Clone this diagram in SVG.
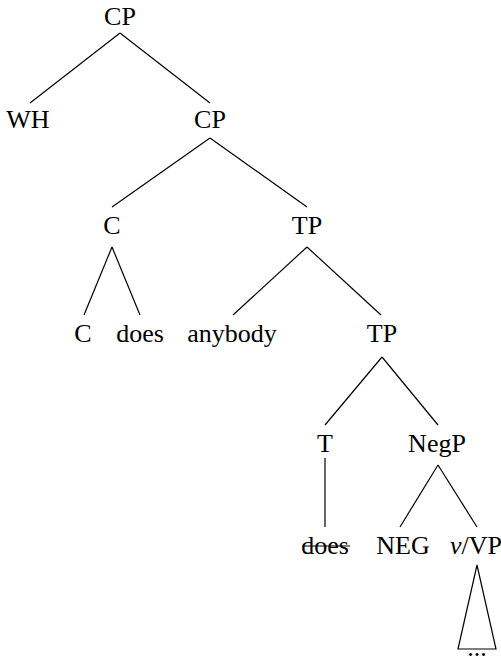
<svg xmlns="http://www.w3.org/2000/svg" width="501" height="663" viewBox="0 0 501 663">
<style>
text{font-family:"Liberation Serif","Times New Roman",serif;font-size:26px;fill:#000;text-anchor:middle}
line,polygon{stroke:#000;stroke-width:1.2;fill:none}
</style>
<rect width="501" height="663" fill="#fff"/>
<g id="connectors">
<line x1="120" y1="33" x2="30" y2="103"/>
<line x1="120" y1="33" x2="210" y2="103"/>
<line x1="210" y1="138" x2="112" y2="207"/>
<line x1="210" y1="138" x2="307" y2="207"/>
<line x1="112" y1="247" x2="84" y2="315"/>
<line x1="112" y1="247" x2="140" y2="315"/>
<line x1="307" y1="247" x2="233" y2="315"/>
<line x1="307" y1="247" x2="381" y2="315"/>
<line x1="382" y1="357" x2="325" y2="425"/>
<line x1="382" y1="357" x2="438" y2="425"/>
<line x1="325" y1="458" x2="325" y2="527"/>
<line x1="438" y1="465" x2="400" y2="527"/>
<line x1="438" y1="465" x2="477" y2="527"/>
<polygon points="477,565 458,649 496,649"/>
</g>
<g id="n-cp1"><text x="120" y="25">CP</text></g>
<g id="n-wh"><text x="28" y="128">WH</text></g>
<g id="n-cp2"><text x="210" y="128">CP</text></g>
<g id="n-c"><text x="112" y="234">C</text></g>
<g id="n-tp1"><text x="307" y="234">TP</text></g>
<g id="n-c2"><text x="83" y="342">C</text></g>
<g id="n-does1"><text x="140" y="342">does</text></g>
<g id="n-anybody"><text x="232" y="342">anybody</text></g>
<g id="n-tp2"><text x="382" y="342">TP</text></g>
<g id="n-t"><text x="325" y="452">T</text></g>
<g id="n-negp"><text x="437" y="452">NegP</text></g>
<g id="n-does2"><text x="325" y="554">does</text><line x1="302" y1="546" x2="350" y2="546"/></g>
<g id="n-neg"><text x="403" y="554">NEG</text></g>
<g id="n-vp"><text x="476" y="554"><tspan font-style="italic">v</tspan>/VP</text></g>
<g id="n-dots"><text x="477" y="656">...</text></g>
</svg>
